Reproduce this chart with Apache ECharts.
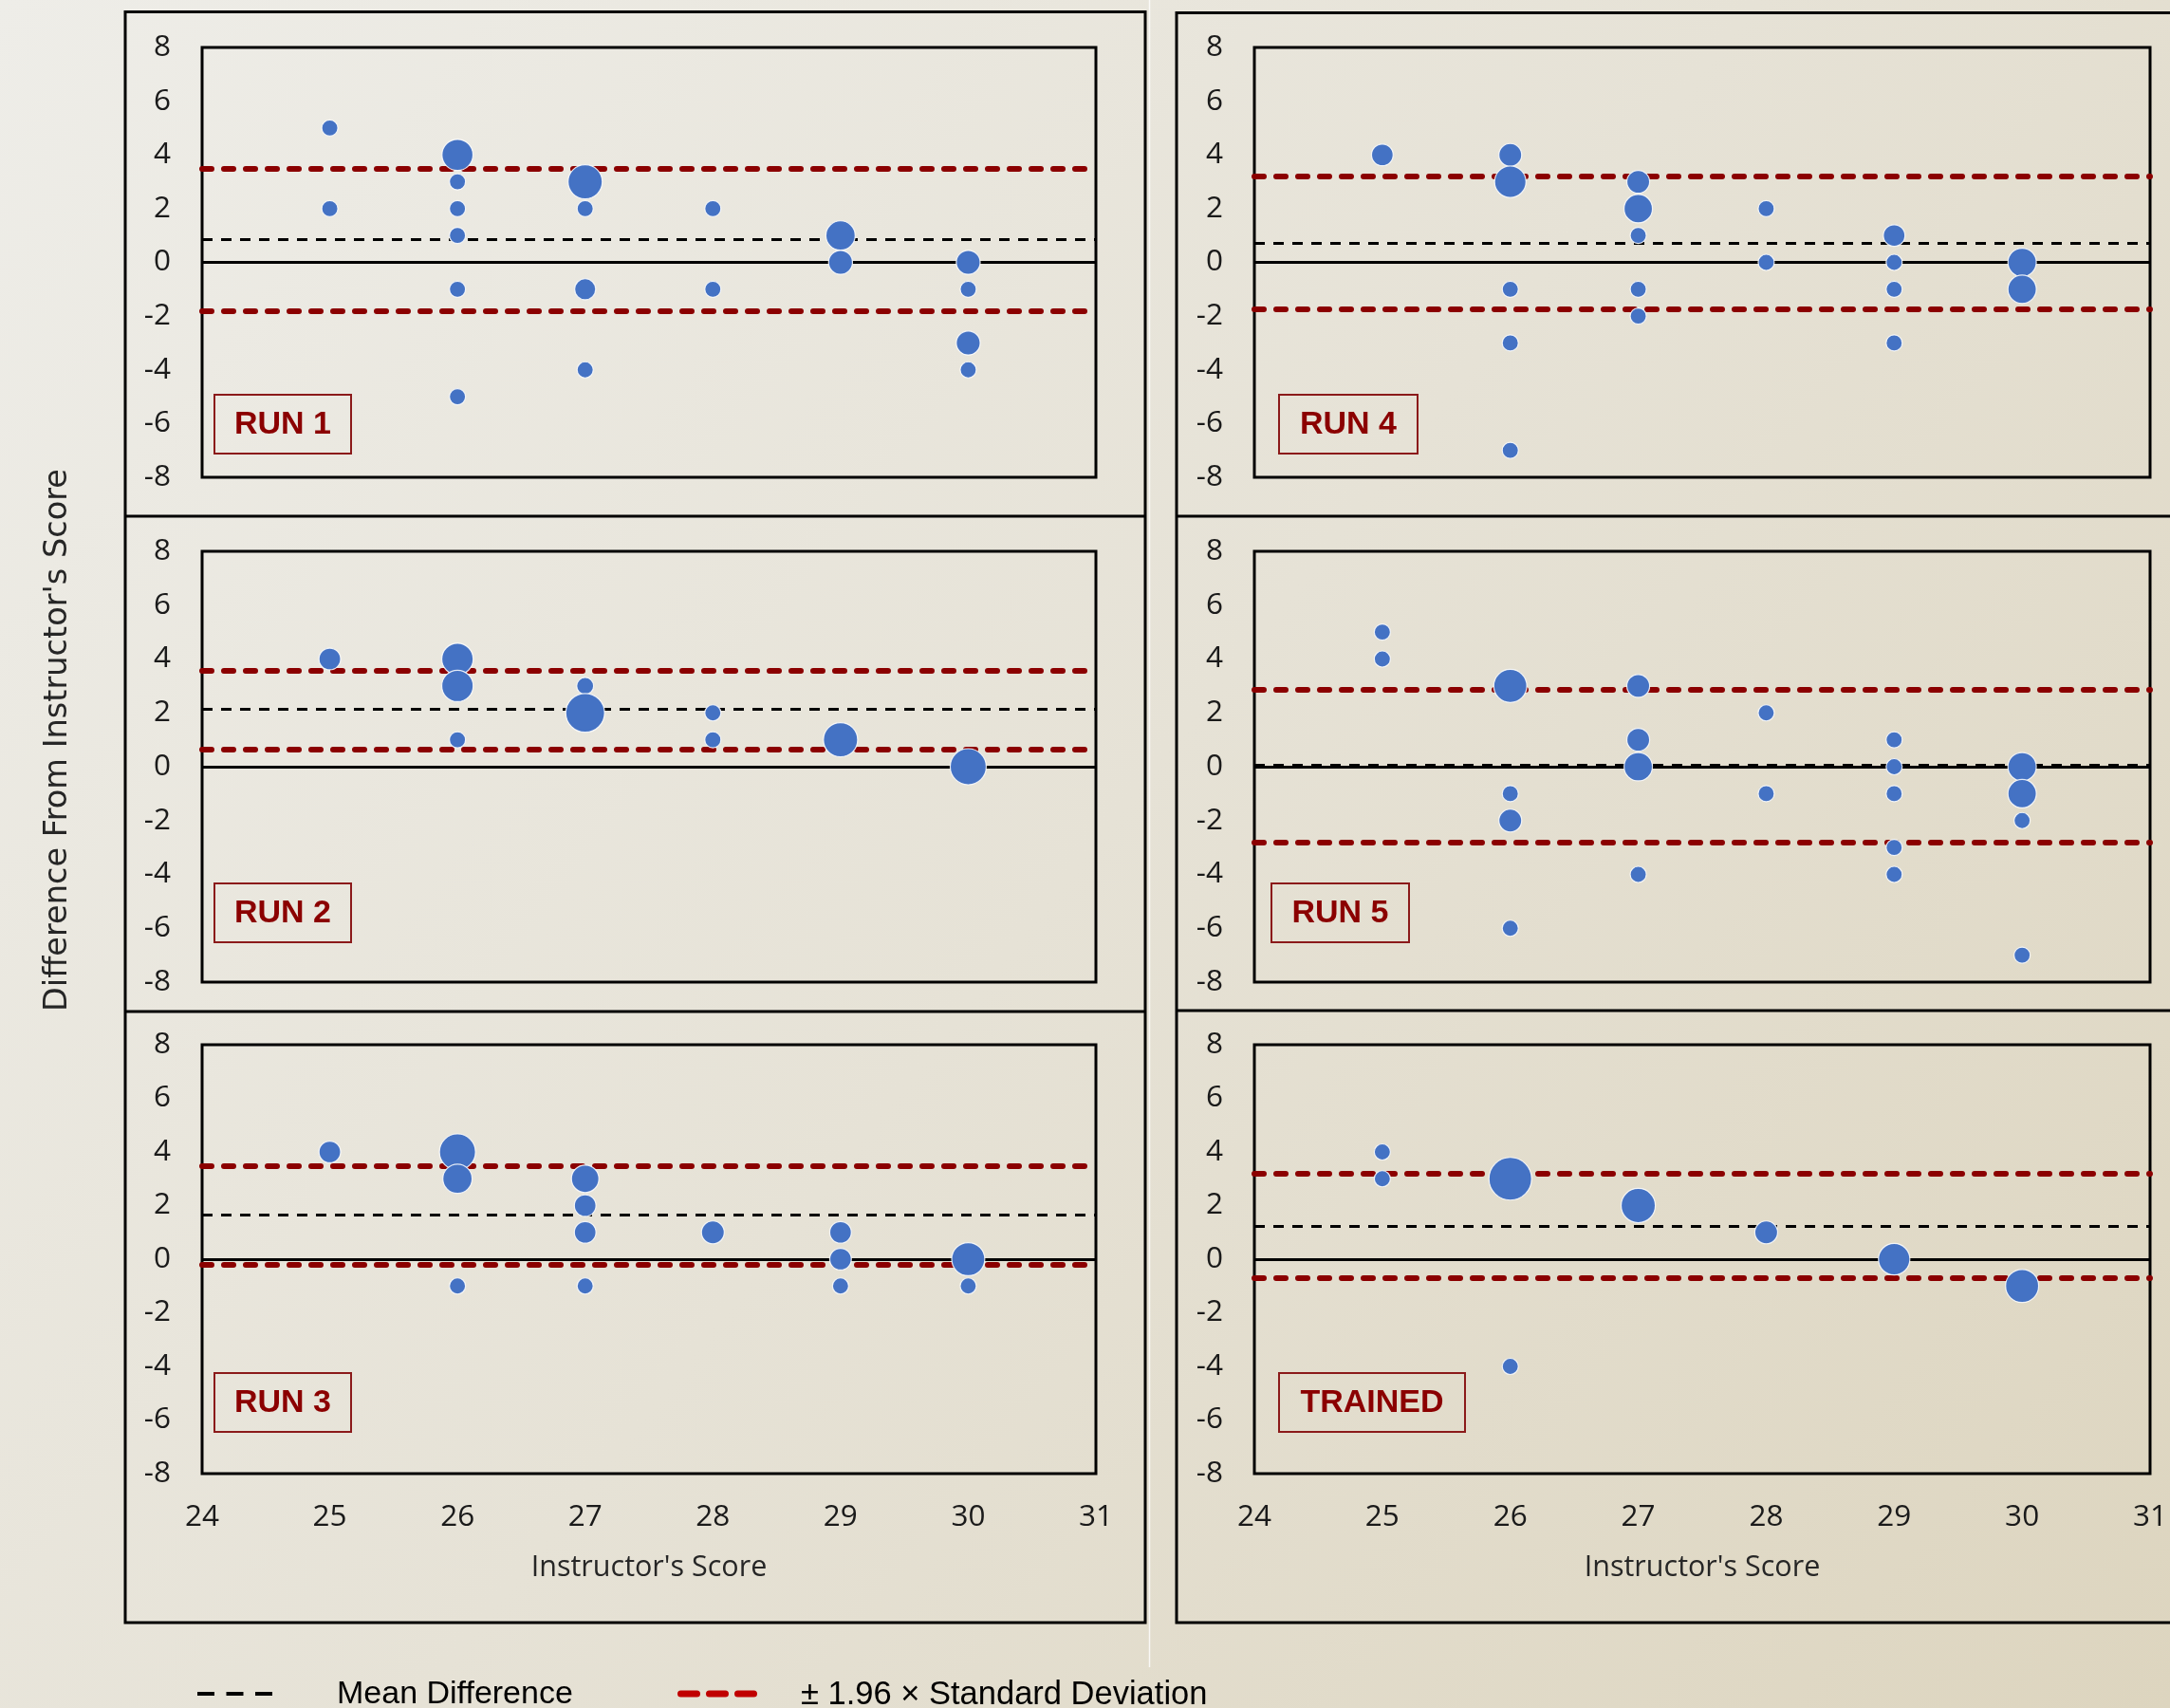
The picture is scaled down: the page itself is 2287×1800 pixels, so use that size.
<!DOCTYPE html>
<html><head><meta charset="utf-8">
<script src="https://cdn.jsdelivr.net/npm/echarts@6/dist/echarts.min.js"></script>
<style>html,body{margin:0;padding:0;overflow:hidden;}#c{width:2287px;height:1800px;}</style>
</head><body><div id="c"></div>
<script>
// ---------- DATA ----------
const panelNames = ['RUN 1', 'RUN 2', 'RUN 3', 'RUN 4', 'RUN 5', 'TRAINED'];
const xMin = 24, xMax = 31;
const yMin = -8, yMax = 8;
// points: [instructor's score, difference, bubble size (count)]
const run1 = [[25,5,1],[25,2,1],[26,4,3.7],[26,3,1],[26,2,1],[26,1,1],[26,-1,1],[26,-5,1],
  [27,3,4.5],[27,2,1],[27,-1,1.7],[27,-4,1],[28,2,1],[28,-1,1],[29,1,3.3],[29,0,2.2],
  [30,0,2.2],[30,-1,1],[30,-3,2.2],[30,-4,1]];
const run2 = [[25,4,1.8],[26,4,3.8],[26,3,3.8],[26,1,1],[27,3,1.1],[27,2,5.8],[28,2,1],[28,1,1],
  [29,1,4.5],[30,0,5]];
const run3 = [[25,4,1.8],[26,4,5],[26,3,3.3],[26,-1,1],[27,3,2.9],[27,2,1.8],[27,1,1.8],[27,-1,1],
  [28,1,2],[29,1,1.8],[29,0,1.8],[29,-1,1],[30,0,4.2],[30,-1,1]];
const run4 = [[25,4,1.8],[26,4,2],[26,3,3.8],[26,-1,1],[26,-3,1],[26,-7,1],[27,3,2],[27,2,3.1],
  [27,1,1],[27,-1,1],[27,-2,1],[28,2,1],[28,0,1],[29,1,1.8],[29,0,1],[29,-1,1],[29,-3,1],
  [30,0,3.1],[30,-1,3.1]];
const run5 = [[25,5,1],[25,4,1],[26,3,4.2],[26,-1,1],[26,-2,2],[26,-6,1],[27,3,2],[27,1,2],
  [27,0,3.1],[27,-4,1],[28,2,1],[28,-1,1],[29,1,1],[29,0,1],[29,-1,1],[29,-3,1],[29,-4,1],
  [30,0,3.1],[30,-1,3.1],[30,-2,1],[30,-7,1]];
const trained = [[25,4,1],[25,3,1],[26,3,7],[26,-4,1],[27,2,4.5],[28,1,2],[29,0,3.8],[30,-1,4.2]];
const meanDiff   = [0.85, 2.13, 1.65, 0.71, 0.05, 1.23];
const upperLimit = [3.49, 3.58, 3.47, 3.22, 2.88, 3.20];
const lowerLimit = [-1.81, 0.66, -0.19, -1.75, -2.81, -0.69];
const legendLabels = ['Mean Difference', '\u00B1 1.96 \u00D7 Standard Deviation'];
const xTitle = "Instructor's Score";
const yTitle = "Difference From Instructor's Score";

const panelData = [run1, run2, run3, run4, run5, trained];

// ---------- LAYOUT ----------
const colLeft = [213, 1322], colRight = [1155, 2266];
const rowTop = [50, 581, 1101], rowBot = [503, 1035, 1553];
const boxRects = [
  [226, 416, 144, 62], [226, 931, 144, 62], [226, 1447, 144, 62],
  [1348, 416, 146, 62], [1340, 931, 145, 62], [1348, 1447, 196, 62]
];
const tickFont = "'Open Sans', 'Noto Sans', sans-serif";
const RED = '#8B0000';

const grids = [], xAxes = [], yAxes = [], series = [], graphics = [];

panelData.forEach((pts, i) => {
  const col = i < 3 ? 0 : 1, row = i % 3;
  grids.push({
    left: colLeft[col], top: rowTop[row],
    width: colRight[col] - colLeft[col], height: rowBot[row] - rowTop[row],
    show: true, borderColor: '#000', borderWidth: 3, backgroundColor: 'transparent', z: 0
  });
  xAxes.push({
    type: 'value', gridIndex: i, min: xMin, max: xMax, interval: 1,
    axisLine: { show: false }, axisTick: { show: false }, splitLine: { show: false },
    axisLabel: { show: row === 2, fontFamily: tickFont, fontSize: 31.5, color: '#1a1a1a', margin: 30,
                 showMinLabel: true, showMaxLabel: true }
  });
  yAxes.push({
    type: 'value', gridIndex: i, min: yMin, max: yMax, interval: 2,
    axisLine: { show: false }, axisTick: { show: false }, splitLine: { show: false },
    axisLabel: { fontFamily: tickFont, fontSize: 31.5, color: '#1a1a1a', margin: 33,
                 showMinLabel: true, showMaxLabel: true }
  });
  series.push({
    type: 'line', xAxisIndex: i, yAxisIndex: i, data: [], z: 1, silent: true,
    markLine: {
      silent: true, symbol: 'none', z: 1, animation: false,
      label: { show: false },
      data: [
        { yAxis: 0, lineStyle: { type: 'solid', color: '#000', width: 3 } },
        { yAxis: upperLimit[i], lineStyle: { type: [10, 13], color: RED, width: 6, cap: 'round' } },
        { yAxis: lowerLimit[i], lineStyle: { type: [10, 13], color: RED, width: 6, cap: 'round' } },
        { yAxis: meanDiff[i], lineStyle: { type: [11, 9], color: '#000', width: 3 } }
      ]
    }
  });
  series.push({
    type: 'scatter', xAxisIndex: i, yAxisIndex: i, z: 10, data: pts,
    symbolSize: v => 17 * Math.sqrt(v[2]),
    itemStyle: { color: '#4472C4', opacity: 1, borderColor: 'rgba(255,255,255,0.85)', borderWidth: 1.2 },
    animation: false
  });
  const b = boxRects[i];
  graphics.push({ type: 'rect', z: 20, shape: { x: b[0], y: b[1], width: b[2], height: b[3] },
    style: { fill: 'none', stroke: '#8B1A1A', lineWidth: 2 } });
  graphics.push({ type: 'text', z: 21, x: b[0] + b[2] / 2, y: b[1] + b[3] / 2 + 1,
    style: { text: panelNames[i], align: 'center', verticalAlign: 'middle',
             font: "bold 34px 'Liberation Sans', Arial, sans-serif", fill: '#8B0000' } });
});

// outer panel frames
graphics.push({ type: 'rect', z: 5, shape: { x: 132, y: 12.5, width: 1075, height: 1697.5 },
  style: { fill: 'none', stroke: '#000', lineWidth: 3 } });
graphics.push({ type: 'line', z: 5, shape: { x1: 132, y1: 544, x2: 1207, y2: 544 }, style: { stroke: '#000', lineWidth: 3 } });
graphics.push({ type: 'line', z: 5, shape: { x1: 132, y1: 1066, x2: 1207, y2: 1066 }, style: { stroke: '#000', lineWidth: 3 } });
graphics.push({ type: 'rect', z: 5, shape: { x: 1240, y: 13.5, width: 1100, height: 1696.5 },
  style: { fill: 'none', stroke: '#000', lineWidth: 3 } });
graphics.push({ type: 'line', z: 5, shape: { x1: 1240, y1: 544, x2: 2300, y2: 544 }, style: { stroke: '#000', lineWidth: 3 } });
graphics.push({ type: 'line', z: 5, shape: { x1: 1240, y1: 1065, x2: 2300, y2: 1065 }, style: { stroke: '#000', lineWidth: 3 } });
graphics.push({ type: 'line', z: 4, shape: { x1: 1211.5, y1: 0, x2: 1211.5, y2: 1757 }, style: { stroke: 'rgba(255,255,255,0.8)', lineWidth: 1.5 } });

// axis titles
[684, 1794].forEach(cx => graphics.push({ type: 'text', z: 20, x: cx, y: 1652,
  style: { text: xTitle, align: 'center', verticalAlign: 'middle',
           font: "30.5px 'Open Sans', sans-serif", fill: '#262626' } }));
graphics.push({ type: 'text', z: 20, x: 61, y: 780, rotation: Math.PI / 2,
  style: { text: yTitle, align: 'center', verticalAlign: 'middle',
           font: "33.6px 'DejaVu Sans', sans-serif", fill: '#262626' } });

// legend
graphics.push({ type: 'line', z: 20, shape: { x1: 208, y1: 1785, x2: 287, y2: 1785 },
  style: { stroke: '#000', lineWidth: 4, lineDash: [18, 12.5] } });
graphics.push({ type: 'text', z: 20, x: 355, y: 1786,
  style: { text: legendLabels[0], align: 'left', verticalAlign: 'middle',
           font: "34px 'Liberation Sans', Arial, sans-serif", fill: '#000' } });
graphics.push({ type: 'line', z: 20, shape: { x1: 717.5, y1: 1785, x2: 794.5, y2: 1785 },
  style: { stroke: '#C00000', lineWidth: 7, lineDash: [17, 13], lineCap: 'round' } });
graphics.push({ type: 'text', z: 20, x: 844, y: 1786,
  style: { text: legendLabels[1], align: 'left', verticalAlign: 'middle',
           font: "34.5px 'Liberation Sans', Arial, sans-serif", fill: '#000' } });

const chart = echarts.init(document.getElementById('c'), null, { renderer: 'canvas', width: 2287, height: 1800 });
chart.setOption({
  animation: false,
  backgroundColor: { type: 'linear', x: 0, y: 0, x2: 1, y2: 1,
    colorStops: [{ offset: 0, color: '#EEEDE8' }, { offset: 0.5, color: '#E6E2D6' }, { offset: 1, color: '#DDD5BF' }] },
  grid: grids, xAxis: xAxes, yAxis: yAxes, series: series, graphic: graphics
});
</script></body></html>
